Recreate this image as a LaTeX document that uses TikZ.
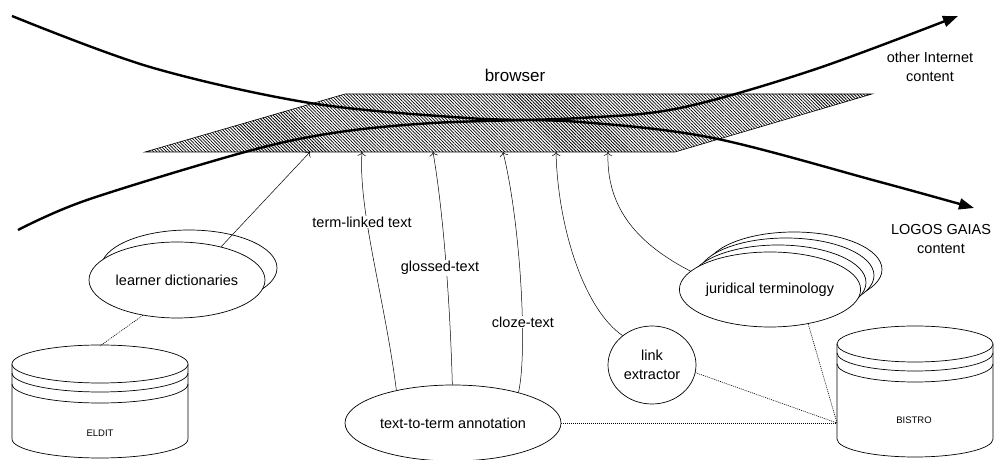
\documentclass[tikz,border=0pt]{standalone}
\usepackage{fontspec}
\setmainfont{Liberation Sans}
\usetikzlibrary{shapes.geometric, arrows.meta, patterns.meta}

% database cylinder: centre x, top ellipse y, x radius, y radius, bottom arc y
\newcommand{\dbstack}[5]{%
  \draw[fill=white] ({#1-#3},#2) -- ({#1-#3},#5) arc[start angle=180,end angle=360,x radius=#3,y radius=#4] -- ({#1+#3},#2);
  \draw[fill=white] (#1,#2) ellipse[x radius=#3,y radius=#4];
  \draw ({#1-#3},{#2-9}) arc[start angle=180,end angle=360,x radius=#3,y radius=#4];
  \draw ({#1-#3},{#2-20}) arc[start angle=180,end angle=360,x radius=#3,y radius=#4];
}

\begin{document}
\begin{tikzpicture}[x=1pt,y=1pt,line width=0.7pt,
  txt/.style={font=\fontsize{14.5}{19}\selectfont},
  box/.style={ellipse, draw, fill=white, inner sep=0pt, txt},
  flow/.style={line width=2.4pt, -{Triangle[length=15pt,width=11pt]}},
  link/.style={line width=0.5pt, -{To[length=4pt]}},
  feed/.style={line width=0.6pt, dash pattern=on 1pt off 1pt}]

\useasboundingbox (0,0) rectangle (994,460);

% browser plane
\draw[line width=0.6pt, pattern={Lines[angle=-45,distance=2.3pt,line width=0.75pt]}]
  (145,308) -- (345,366) -- (872,366) -- (675,308) -- cycle;
\node[font=\fontsize{17}{20}\selectfont] (browser) at (515,385) {browser};

% content streams
\draw[flow] plot[smooth, tension=0.55] coordinates {(12,444) (150,393) (310,357) (467,342) (580,338) (713,322) (880,278) (974,252)};
\draw[flow] plot[smooth, tension=0.55] coordinates {(18,230) (87,260) (245,308) (333,327) (433,337) (580,342) (680,352) (813,390) (958,444)};
\node[txt, align=center] (other) at (930,393) {other Internet\\content};
\node[txt, align=center] (logos) at (941,221) {LOGOS GAIAS\\content};

% components
\node[box, minimum width=176pt, minimum height=76pt] (ld2) at (189,192) {};
\node[box, minimum width=176pt, minimum height=76pt] (ld) at (177,180) {learner dictionaries};

\node[box, minimum width=176pt, minimum height=75pt] (jt4) at (794,190.5) {};
\node[box, minimum width=176pt, minimum height=75pt] (jt3) at (786,184.5) {};
\node[box, minimum width=176pt, minimum height=75pt] (jt2) at (778,177.5) {};
\node[box, minimum width=176pt, minimum height=75pt] (jt) at (770,170.5) {juridical terminology};

\node[box, minimum width=216pt, minimum height=76pt] (tta) at (453,37) {text-to-term annotation};
\node[box, align=center, minimum width=88pt, minimum height=78pt] (le) at (652,95) {link\\extractor};

% entry points on the browser
\coordinate (b1) at (310,308);
\coordinate (b2) at (362,308);
\coordinate (b3) at (433,308);
\coordinate (b4) at (503,308);
\coordinate (b5) at (556,308);
\coordinate (b6) at (608,308);

\draw[link] (ld.37) -- (b1);
\draw[link] (tta.150) .. controls (385,160) and (358,250) .. (b2);
\draw[link] (tta.91) .. controls (450,160) and (443,250) .. (b3);
\draw[link] (tta.25) .. controls (528,110) and (520,240) .. (b4);
\draw[link] (le.135) .. controls (585,150) and (558,230) .. (b5);
\draw[link] (jt.167) .. controls (640,215) and (606,250) .. (b6);

\node[txt, fill=white, inner sep=1pt] (tl) at (362,238) {term-linked text};
\node[txt, fill=white, inner sep=1pt] (gl) at (440,192) {glossed-text};
\node[txt, fill=white, inner sep=1pt] (cl) at (523,138) {cloze-text};

% databases
\dbstack{100}{96}{88}{19}{21}
\node[font=\fontsize{9.5}{11}\selectfont] (eldit) at (100,27) {ELDIT};
\dbstack{915}{116}{78}{18}{21}
\node[font=\fontsize{9.5}{11}\selectfont] (bistro) at (914,40) {BISTRO};

\coordinate (elditTop) at (100,114);
\coordinate (bistroIn) at (837,37);
\draw[feed] (ld.-134) -- (elditTop);
\draw[feed] (tta.east) -- (bistroIn);
\draw[feed] (le.-10) -- (bistroIn);
\draw[feed] (jt.-42) -- (bistroIn);
\end{tikzpicture}
\end{document}
